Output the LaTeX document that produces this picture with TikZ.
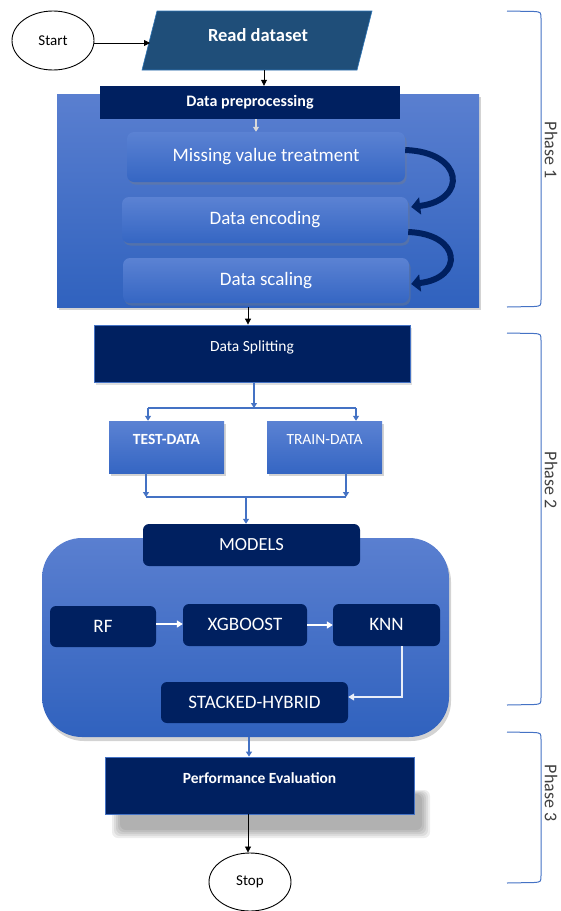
\documentclass[tikz,border=0pt]{standalone}
\usepackage{fontspec}
\setmainfont{Carlito}
\usetikzlibrary{arrows.meta,shadows,shapes.geometric}
\definecolor{navy}{HTML}{002060}
\definecolor{steel}{HTML}{1F4E79}
\definecolor{steelb}{HTML}{2E75B6}
\definecolor{acc}{HTML}{4472C4}
\definecolor{btop}{HTML}{5B82D3}
\definecolor{bbot}{HTML}{3566C3}
\definecolor{ptop}{HTML}{5A7FD0}
\definecolor{pbot}{HTML}{3062BE}
\definecolor{phasec}{HTML}{404040}
\definecolor{lgray}{HTML}{D9D9D9}
\begin{document}
\begin{tikzpicture}[x=1pt,y=-1pt,
  navybox/.style={rectangle, fill=navy, inner sep=0pt, text=white},
  gbox/.style={rectangle, rounded corners=7pt, top color=btop, bottom color=bbot, inner sep=0pt, text=white,
    drop shadow={opacity=0.35,shadow xshift=1.5pt,shadow yshift=-2.5pt}},
  oval/.style={ellipse, draw=black, line width=0.9pt, fill=white, inner sep=0pt, font=\fontsize{15}{18}\selectfont},
  blk/.style={draw=black, line width=0.8pt, -{Triangle[length=6pt,width=6pt]}},
  blu/.style={draw=acc, line width=1.2pt, -{Triangle[length=5pt,width=6pt]}},
  bluline/.style={draw=acc, line width=1.2pt},
  wht/.style={draw=white, line width=1.5pt, -{Triangle[length=6pt,width=7pt]}},
  curv/.style={draw=navy, line width=6pt, -{Triangle[length=9pt,width=17pt]}},
  bracket/.style={draw=acc, line width=1pt},
  phase/.style={text=phasec, rotate=-90, font=\fontsize{18}{20}\selectfont},
  f19/.style={font=\fontsize{19}{22}\selectfont},
  f16/.style={font=\fontsize{15.5}{18}\selectfont},
  blurlayer/.style={fill=black, opacity=0.07},
]
\useasboundingbox (0,0) rectangle (560,911);

% Start and Read dataset
\node[oval, minimum width=82, minimum height=59] (start) at (53,40.5) {Start};
\coordinate (r1) at (157,11);
\coordinate (r2) at (372,11);
\coordinate (r3) at (357,70);
\coordinate (r4) at (142,70);
\fill[steel] (r1) -- (r2) -- (r3) -- (r4) -- cycle;
\draw[steelb, line width=0.6pt] (r1) -- (r2) -- (r3) -- (r4) -- cycle;
\node[text=white, font=\bfseries\fontsize{18.5}{22}\selectfont] (read) at (258,35) {Read dataset};
\coordinate (readL) at (150,43);
\coordinate (readB) at (264,70);
\draw[blk] (start.east |- readL) -- (readL);

% Phase 1 block
\node[rectangle, top color=ptop, bottom color=pbot, minimum width=422, minimum height=213, inner sep=0pt,
  drop shadow={opacity=0.35,shadow xshift=2pt,shadow yshift=-3pt}] (pre) at (268,200.5) {};
\node[navybox, minimum width=300, minimum height=33, font=\bfseries\fontsize{16}{18}\selectfont] (hdr) at (250,102.5) {Data preprocessing};
\draw[blk] (readB) -- (hdr.north -| readB);

\node[gbox, minimum width=278, minimum height=50, f19] (miss) at (266,157) {\raisebox{5pt}{Missing value treatment}};
\node[gbox, minimum width=286, minimum height=46, f19] (enc) at (265,220) {\raisebox{3pt}{Data encoding}};
\node[gbox, minimum width=286, minimum height=45, f19] (scal) at (266,280.5) {\raisebox{3pt}{Data scaling}};
\coordinate (hx) at (256,119);
\draw[draw=lgray, line width=1.2pt, -{Triangle[length=5pt,width=6pt]}] (hdr.south -| hx) -- (miss.north -| hx);

\draw[curv] ([yshift=7pt]miss.east) .. controls (464,152) and (468,200) .. ([yshift=13pt,xshift=3pt]enc.east);
\draw[curv] ([yshift=-12pt]enc.east) .. controls (462,234) and (464,278) .. ([yshift=-3.5pt,xshift=2pt]scal.east);

% Data splitting
\node[navybox, draw=acc, line width=0.8pt, minimum width=316, minimum height=57,
  drop shadow={opacity=0.25,shadow xshift=2pt,shadow yshift=-3pt}] (split) at (252,353.5) {};
\node[text=white, f16] (splitT) at (252,347) {Data Splitting};
\coordinate (pb) at (248,307);
\draw[blk] (pb) -- (split.north -| pb);

\node[gbox, rounded corners=0pt, minimum width=115, minimum height=52] (test) at (166.5,447) {};
\node[text=white, font=\bfseries\fontsize{15.5}{18}\selectfont] (testT) at (166.5,439) {TEST-DATA};
\node[gbox, rounded corners=0pt, minimum width=115, minimum height=52] (train) at (324.5,447) {};
\node[text=white, f16] (trainT) at (324.5,440) {TRAIN-DATA};

\coordinate (j1) at (254,408);
\coordinate (jl) at (148,408);
\coordinate (jr) at (356,408);
\draw[blu] (split.south -| j1) -- (j1);
\draw[bluline] (jl) -- (jr);
\draw[blu] (jl) -- (test.north -| jl);
\draw[blu] (jr) -- (train.north -| jr);

\coordinate (ml) at (146,497);
\coordinate (mr) at (346,497);
\coordinate (mc) at (246,497);
\draw[blu] (test.south -| ml) -- (ml);
\draw[blu] (train.south -| mr) -- (mr);
\draw[bluline] (ml) -- (mr);

% Models
\node[rectangle, rounded corners=40pt, top color=ptop, bottom color=pbot, minimum width=407, minimum height=199, inner sep=0pt,
  drop shadow={opacity=0.35,shadow xshift=2pt,shadow yshift=-4pt}] (mbig) at (245.5,637.5) {};
\node[navybox, rounded corners=6pt, minimum width=217, minimum height=42, font=\fontsize{18.5}{22}\selectfont] (models) at (251.5,545) {MODELS};
\draw[blu] (mc) -- (models.north -| mc);

\node[navybox, rounded corners=6pt, minimum width=106, minimum height=41, f19] (rf) at (103,626.5) {RF};
\node[navybox, rounded corners=6pt, minimum width=124, minimum height=42, f19] (xgb) at (245,625) {\raisebox{2pt}{XGBOOST}};
\node[navybox, rounded corners=6pt, minimum width=107, minimum height=42, f19] (knn) at (386.5,625) {\raisebox{2pt}{KNN}};
\node[navybox, rounded corners=6pt, minimum width=187, minimum height=41, f19] (stk) at (254.5,702.5) {STACKED-HYBRID};
\draw[wht] (rf.east |- 0,624) -- (xgb.west |- 0,624);
\draw[wht] (xgb.east) -- (knn.west);
\coordinate (kx) at (402,697);
\draw[draw=white!88!acc, line width=1.2pt, -{Triangle[length=6pt,width=7pt]}] (knn.south -| kx) -- (kx) -- (stk.east |- kx);

% Performance evaluation with soft shadow
\foreach \i in {0,2,4,6,8} {
  \fill[blurlayer, rounded corners=6pt] (112+\i,790+\i*0.5) rectangle (430-\i,838-\i);
}
\node[navybox, draw=acc, line width=0.8pt, minimum width=309, minimum height=57] (perf) at (259.5,785.5) {};
\node[text=white, font=\bfseries\fontsize{15.5}{18}\selectfont] (perfT) at (259.5,778) {Performance Evaluation};
\coordinate (mb) at (249,737);
\draw[blu] (mb) -- (perf.north -| mb);

\node[oval, minimum width=82, minimum height=58] (stop) at (250,882) {Stop};
\coordinate (pf) at (248,814);
\draw[blk] (pf) -- (stop.north -| pf);

% Phase brackets
\draw[bracket] (507,11) -- (534,11.5) .. controls (541,12) .. (541,19) -- (541,299) .. controls (541,306) .. (534,306.5) -- (507,307);
\draw[bracket] (507,333) -- (534,333.5) .. controls (541,334) .. (541,341) -- (541,697) .. controls (541,704) .. (534,704.5) -- (507,705);
\draw[bracket] (507,732) -- (534,732.5) .. controls (541,733) .. (541,740) -- (541,875) .. controls (541,882) .. (534,882.5) -- (507,883);
\node[phase] (ph1) at (551,150) {Phase 1};
\node[phase] (ph2) at (551,480) {Phase 2};
\node[phase] (ph3) at (551,793) {Phase 3};
\end{tikzpicture}
\end{document}
